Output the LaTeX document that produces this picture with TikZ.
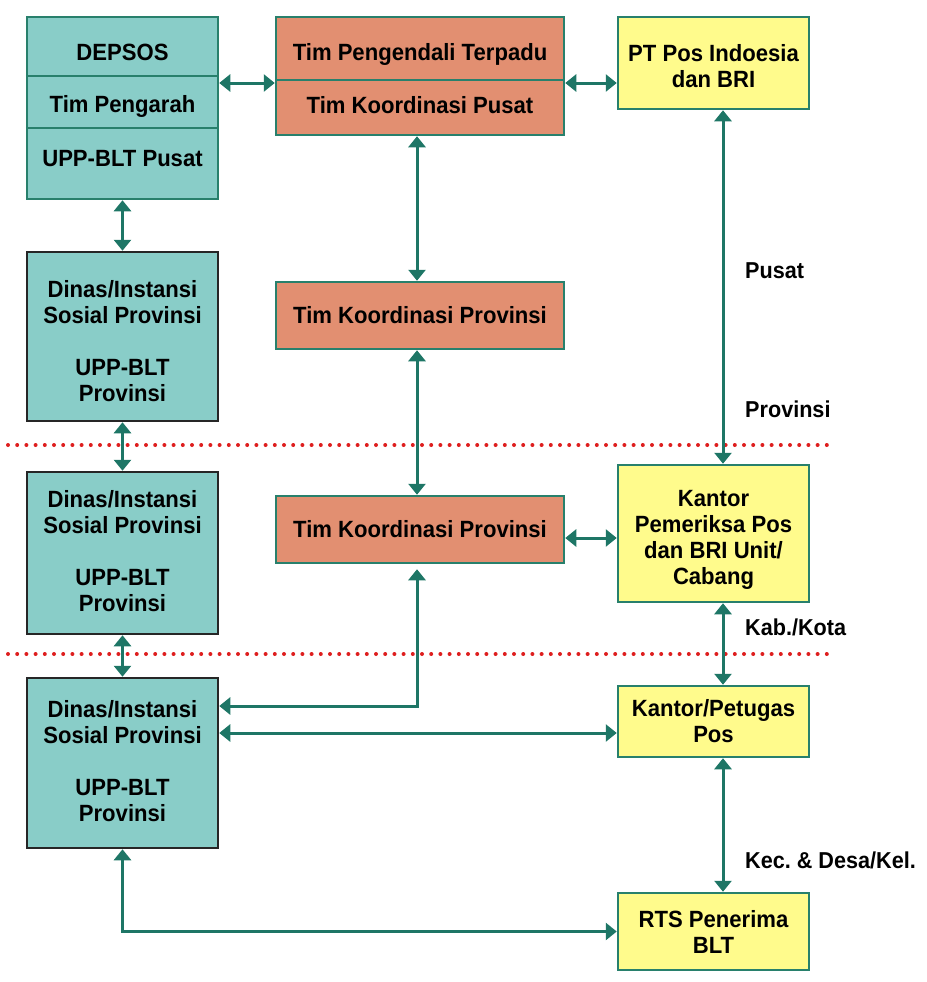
\documentclass[tikz,border=0pt]{standalone}
\usepackage{fontspec}
\setmainfont{Liberation Sans}[FakeStretch=0.94]
\usetikzlibrary{arrows.meta}
\definecolor{tealfill}{RGB}{137,205,200}
\definecolor{salmon}{RGB}{226,143,113}
\definecolor{yel}{RGB}{255,251,140}
\definecolor{boxline}{RGB}{40,128,108}
\definecolor{arrowc}{RGB}{30,118,102}
\definecolor{dotred}{RGB}{222,30,30}
\tikzset{
  box/.style={draw=boxline, line width=2.5pt, inner sep=0pt, rectangle, align=center,
    font=\bfseries\fontsize{23.5}{26}\selectfont},
  tealbox/.style={box, fill=tealfill},
  blackbox/.style={box, draw=black!85, fill=tealfill},
  orangebox/.style={box, fill=salmon},
  yellowbox/.style={box, fill=yel},
  txt/.style={inner sep=0pt, align=center, font=\bfseries\fontsize{23.5}{26}\selectfont},
  lbl/.style={inner sep=0pt, font=\bfseries\fontsize{23}{26}\selectfont},
  biarrow/.style={{Triangle[width=17pt,length=11pt]}-{Triangle[width=17pt,length=11pt]}, draw=arrowc, line width=3pt},
  sepline/.style={draw=dotred, line width=4pt, line cap=round, dash pattern=on 0pt off 9.2pt}
}
\begin{document}
\frenchspacing
\begin{tikzpicture}[x=1pt,y=-1pt]
\useasboundingbox (0,0) rectangle (926,982);
% separators
\coordinate (s1a) at (8,445); \coordinate (s1b) at (830,445);
\coordinate (s2a) at (8,654); \coordinate (s2b) at (830,654);
\draw[sepline] (s1a) -- (s1b);
\draw[sepline] (s2a) -- (s2b);
% left column
\node[tealbox, minimum width=191pt, minimum height=182pt] (depsos) at (122.5,108) {};
\coordinate (dv1) at (0,76); \coordinate (dv2) at (0,128);
\draw[boxline, line width=2.5pt] (depsos.west |- dv1) -- (depsos.east |- dv1);
\draw[boxline, line width=2.5pt] (depsos.west |- dv2) -- (depsos.east |- dv2);
\node[txt, anchor=base] (dep1) at (122.5,61) {DEPSOS};
\node[txt, anchor=base] (dep2) at (122.5,112) {Tim Pengarah};
\node[txt, anchor=base] (dep3) at (122.5,166) {UPP-BLT Pusat};

\node[blackbox, minimum width=191pt, minimum height=169pt] (d1) at (122.5,336.5) {};
\node[txt, anchor=north] (d1t) at (122.5,280) {Dinas/Instansi\\Sosial Provinsi\\[26pt]UPP-BLT\\Provinsi};
\node[blackbox, minimum width=191pt, minimum height=162pt] (d2) at (122.5,553) {};
\node[txt, anchor=north] (d2t) at (122.5,490) {Dinas/Instansi\\Sosial Provinsi\\[26pt]UPP-BLT\\Provinsi};
\node[blackbox, minimum width=191pt, minimum height=170pt] (d3) at (122.5,763) {};
\node[txt, anchor=north] (d3t) at (122.5,700) {Dinas/Instansi\\Sosial Provinsi\\[26pt]UPP-BLT\\Provinsi};

% middle column
\node[orangebox, minimum width=288pt, minimum height=118pt] (tim) at (420,76) {};
\coordinate (tv1) at (0,80);
\draw[boxline, line width=2.5pt] (tim.west |- tv1) -- (tim.east |- tv1);
\node[txt, anchor=base] (tim1) at (420,61) {Tim Pengendali Terpadu};
\node[txt, anchor=base] (tim2) at (420,113) {Tim Koordinasi Pusat};
\node[orangebox, minimum width=288pt, minimum height=67pt] (tk1) at (420,315.5) {Tim Koordinasi Provinsi};
\node[orangebox, minimum width=288pt, minimum height=67pt] (tk2) at (420,529.5) {Tim Koordinasi Provinsi};

% right column
\node[yellowbox, minimum width=191pt, minimum height=92pt] (pt) at (713.5,63) {};
\node[txt, anchor=north] (ptt) at (713.5,44) {PT Pos Indoesia\\dan BRI};
\node[yellowbox, minimum width=191pt, minimum height=137pt] (kpb) at (713.5,533.5) {};
\node[txt, anchor=north] (kpbt) at (713.5,490) {Kantor\\Pemeriksa Pos\\dan BRI Unit/\\Cabang};
\node[yellowbox, minimum width=191pt, minimum height=71pt] (kp) at (713.5,721.5) {Kantor/Petugas\\Pos};
\node[yellowbox, minimum width=191pt, minimum height=77pt] (rts) at (713.5,931.5) {RTS Penerima\\BLT};

% labels
\node[lbl, anchor=base west] (lpusat) at (745,278) {Pusat};
\node[lbl, anchor=base west] (lprov) at (745,417) {Provinsi};
\node[lbl, anchor=base west] (lkab) at (745,635) {Kab./Kota};
\node[lbl, anchor=base west] (lkec) at (745,868) {Kec. \& Desa/Kel.};

% connectors
\coordinate (yTop) at (0,83);
\coordinate (xM) at (417,0);
\coordinate (xR) at (723,0);
\coordinate (yA) at (0,706);
\coordinate (yB) at (0,733);
\coordinate (yC) at (0,538);
\draw[biarrow] (depsos.east |- yTop) -- (tim.west |- yTop);
\draw[biarrow] (tim.east |- yTop) -- (pt.west |- yTop);
\draw[biarrow] (depsos.south) -- (d1.north);
\draw[biarrow] (d1.south) -- (d2.north);
\draw[biarrow] (d2.south) -- (d3.north);
\draw[biarrow] (tim.south -| xM) -- (tk1.north -| xM);
\draw[biarrow] (tk1.south -| xM) -- (tk2.north -| xM);
\draw[biarrow, shorten <=5pt] (tk2.south -| xM) |- (d3.east |- yA);
\draw[biarrow] (d3.east |- yB) -- (kp.west |- yB);
\draw[biarrow] (d3.south) |- (rts.west);
\draw[biarrow] (tk2.east |- yC) -- (kpb.west |- yC);
\draw[biarrow] (pt.south -| xR) -- (kpb.north -| xR);
\draw[biarrow] (kpb.south -| xR) -- (kp.north -| xR);
\draw[biarrow] (kp.south -| xR) -- (rts.north -| xR);
\end{tikzpicture}
\end{document}
